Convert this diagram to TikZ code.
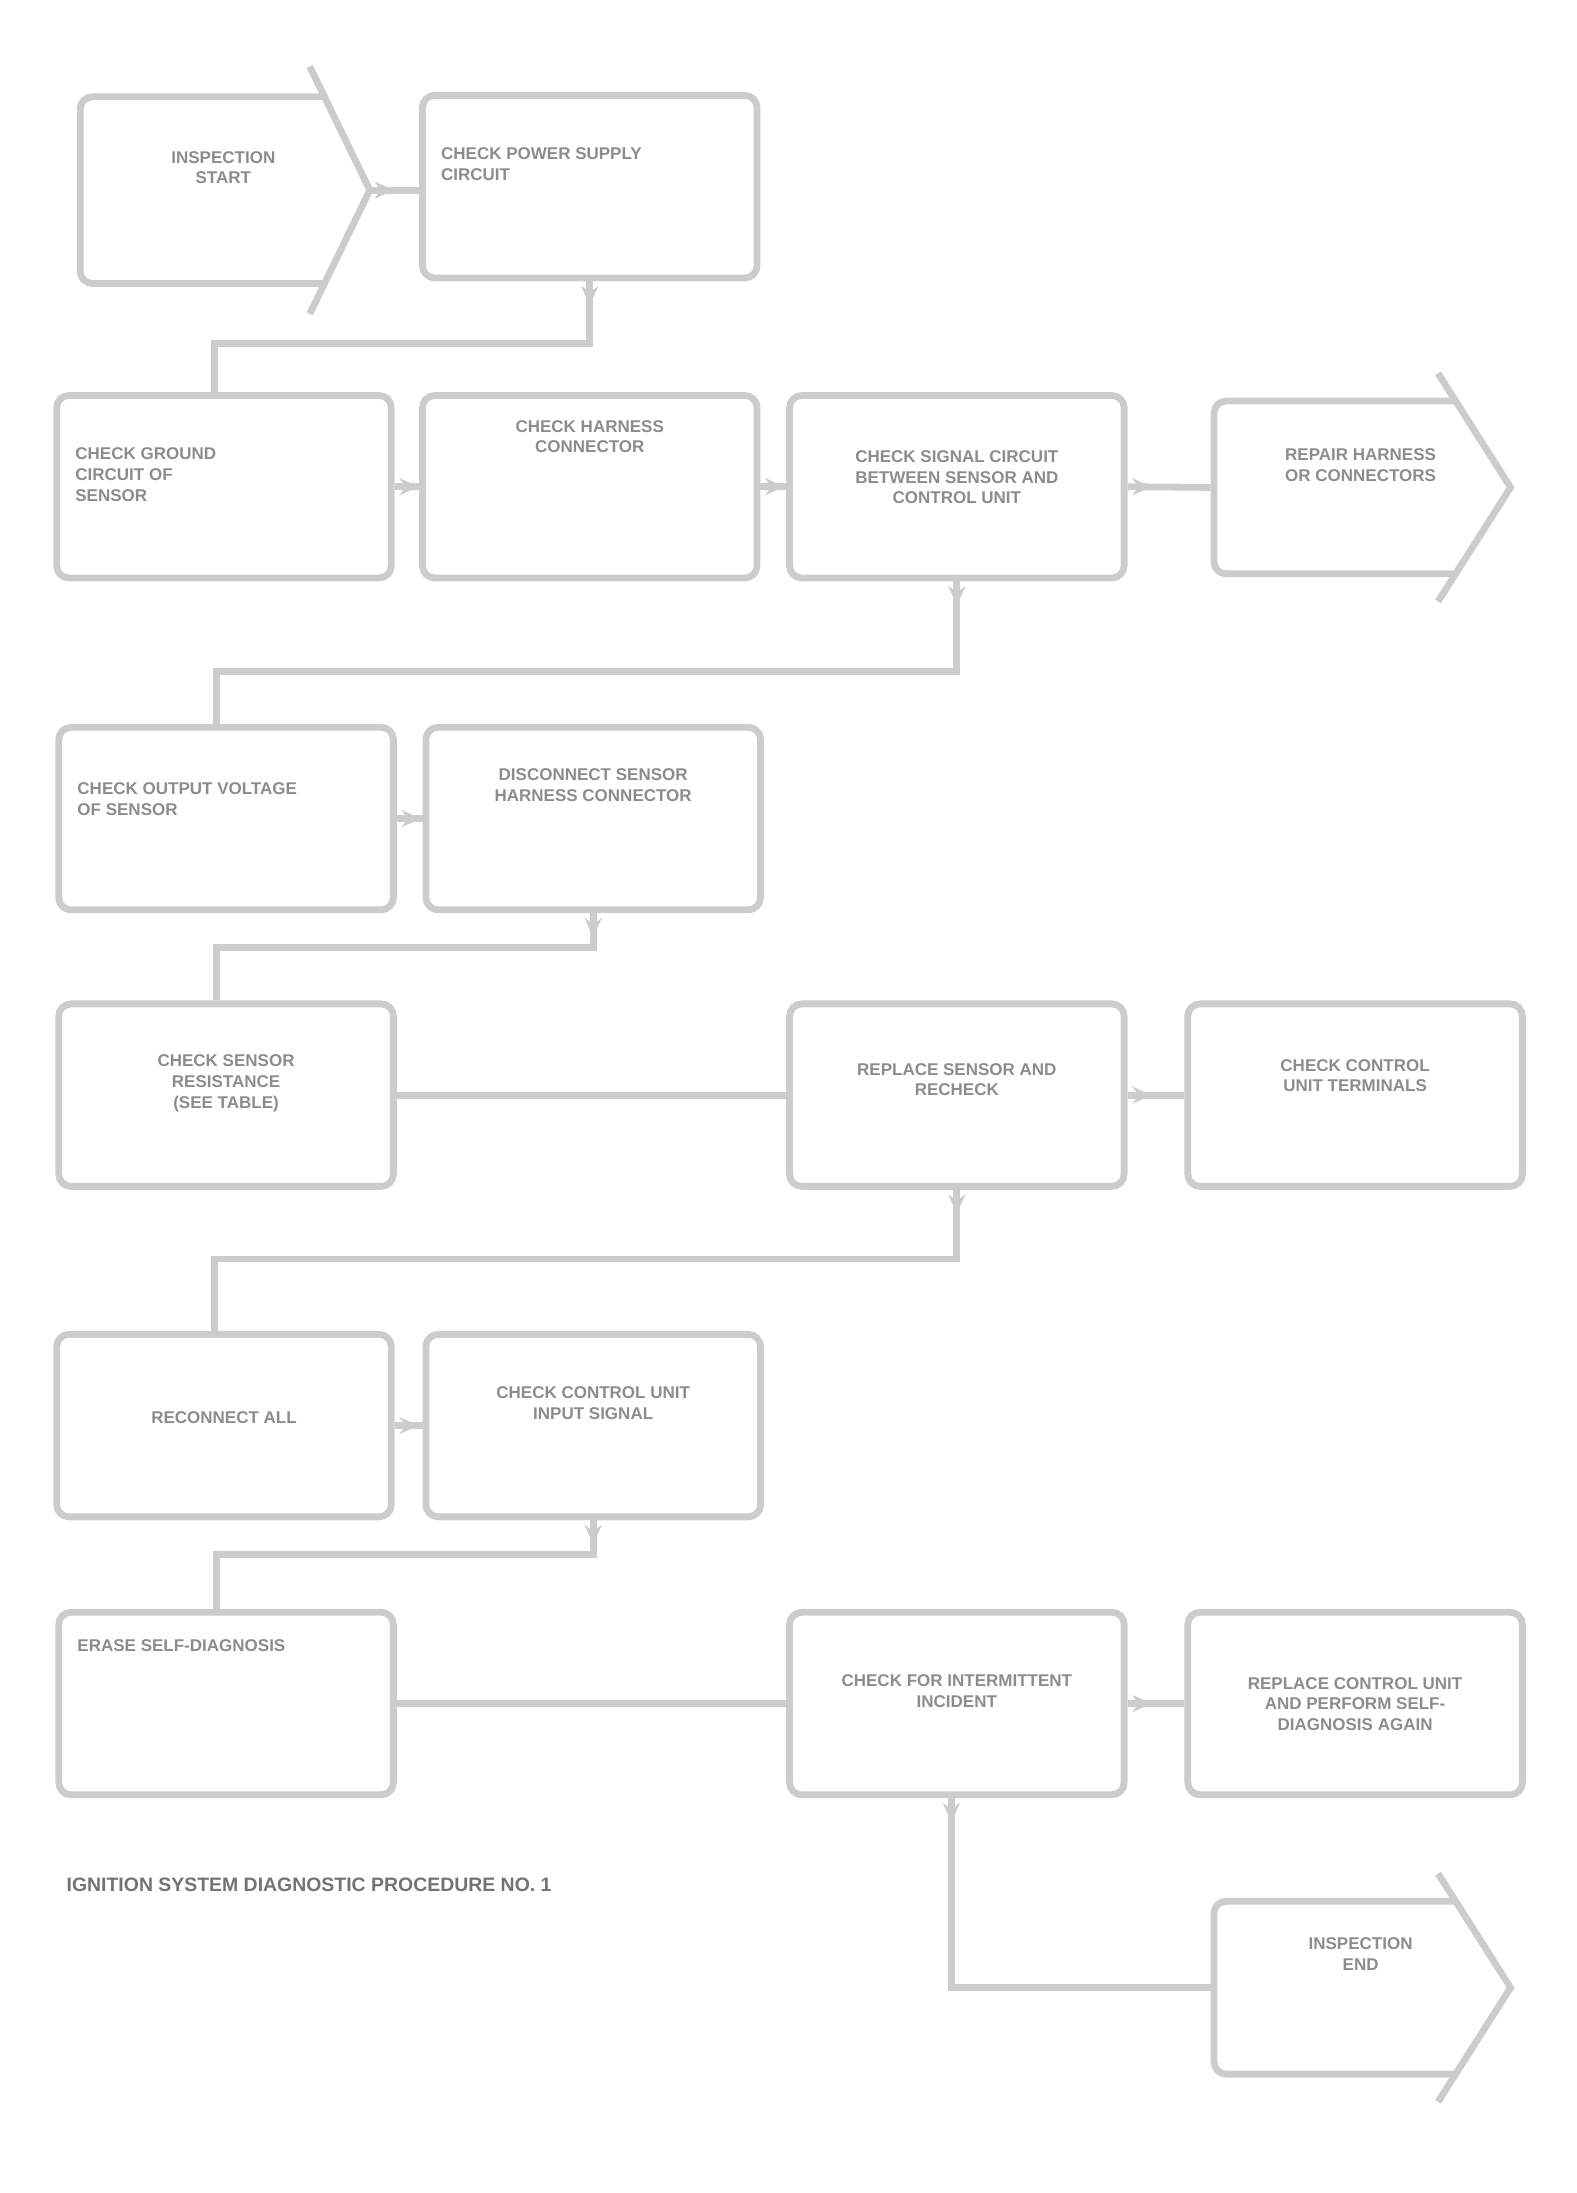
\documentclass[tikz,border=0pt]{standalone}
\usepackage[dvipsnames]{xcolor}
\usepackage{fontspec}
\setmainfont{Liberation Sans}
\usepackage{tikz}
\usetikzlibrary{arrows.meta,decorations.markings}

\newcommand{\boxtext}[4][4.3cm]{\parbox[c][2.4cm][t]{#1}{\vspace*{#2}#3#4}}

\begin{document}
\begin{tikzpicture}[x=0.02cm,y=-0.02cm,
  box/.style={draw=black!20, line width=2.8pt, rounded corners=5pt, minimum width=4.84cm,
    minimum height=2.64cm, inner sep=0pt, text=black!45, font=\fontsize{7}{8.5}\selectfont\bfseries},
  flag/.style={box, draw=none, minimum height=2.5cm},
  line/.style={color=black!20, line width=2.8pt},
  flowtip/.style={postaction={decorate, decoration={markings,
    mark=at position 0.35cm with {\arrow{Stealth[length=8pt,width=7pt]}}}}}]
  \useasboundingbox (0,0) rectangle (1140,1586);

  % row 1
  \node[flag, minimum width=4.14cm, minimum height=2.7cm] (A) at (161.5,137.5)
    {\boxtext[3.4cm]{0.64cm}{\centering}{INSPECTION\\START}};
  \draw[line, rounded corners=5pt] (234,70) -- (58,70) -- (58,205) -- (234,205);
  \draw[line] (224,48) -- (A.east) -- (224,227);
  \node[box] (B) at (426.5,135) {\boxtext{0.64cm}{\raggedright}{CHECK POWER SUPPLY\\CIRCUIT}};

  % row 2
  \node[box] (C) at (162,352) {\boxtext{0.64cm}{\raggedright}{CHECK GROUND\\CIRCUIT OF\\SENSOR}};
  \node[box] (D) at (426.5,352) {\boxtext{0.24cm}{\centering}{CHECK HARNESS\\CONNECTOR}};
  \node[box] (E) at (692,352) {\boxtext{0.68cm}{\centering}{CHECK SIGNAL CIRCUIT\\BETWEEN SENSOR AND\\CONTROL UNIT}};
  \node[flag, minimum width=4.24cm] (F) at (984,352.5)
    {\boxtext[3.4cm]{0.64cm}{\centering}{REPAIR HARNESS\\OR CONNECTORS}};
  \draw[line, rounded corners=5pt] (1052,290) -- (878,290) -- (878,415) -- (1052,415);
  \draw[line] (1040,270) -- (F.east) -- (1040,435);

  % row 3
  \node[box] (G) at (163.5,592) {\boxtext{0.68cm}{\raggedright}{CHECK OUTPUT VOLTAGE\\OF SENSOR}};
  \node[box] (H) at (429,592) {\boxtext{0.48cm}{\centering}{DISCONNECT SENSOR\\HARNESS CONNECTOR}};

  % row 4
  \node[box] (I) at (163.5,792) {\boxtext{0.62cm}{\centering}{CHECK SENSOR\\RESISTANCE\\(SEE TABLE)}};
  \node[box] (J) at (692,792) {\boxtext{0.74cm}{\centering}{REPLACE SENSOR AND\\RECHECK}};
  \node[box] (K) at (980,792) {\boxtext{0.68cm}{\centering}{CHECK CONTROL\\UNIT TERMINALS}};

  % row 5
  \node[box] (L) at (162,1031) {\boxtext{1.0cm}{\centering}{RECONNECT ALL}};
  \node[box] (M) at (429,1031) {\boxtext{0.64cm}{\centering}{CHECK CONTROL UNIT\\INPUT SIGNAL}};

  % row 6
  \node[box] (N) at (163.5,1232) {\boxtext{0.28cm}{\raggedright}{ERASE SELF-DIAGNOSIS}};
  \node[box] (O) at (692,1232) {\boxtext{0.78cm}{\centering}{CHECK FOR INTERMITTENT\\INCIDENT}};
  \node[box] (P) at (980,1232) {\boxtext{0.82cm}{\centering}{REPLACE CONTROL UNIT\\AND PERFORM SELF-\\DIAGNOSIS AGAIN}};

  \node[anchor=west, text=black!55, font=\fontsize{8}{9}\selectfont\bfseries] (cap) at (42,1363)
    {IGNITION SYSTEM DIAGNOSTIC PROCEDURE NO. 1};

  % row 7
  \node[flag, minimum width=4.24cm] (Q) at (984,1437.5)
    {\boxtext[3.4cm]{0.48cm}{\centering}{INSPECTION\\END}};
  \draw[line, rounded corners=5pt] (1052,1375) -- (878,1375) -- (878,1500) -- (1052,1500);
  \draw[line] (1040,1355) -- (Q.east) -- (1040,1520);

  % connectors
  \draw[line, flowtip] (A.east) -- (A.east -| B.west);
  \draw[line, flowtip] (B.south) -- ++(0,45) -| ([xshift=-0.14cm]C.north);
  \draw[line, flowtip] (C.east) -- (D.west);
  \draw[line, flowtip] (D.east) -- (E.west);
  \draw[line, flowtip] (E.east) -- (F.west);
  \draw[line, flowtip] (E.south) -- ++(0,65) -| ([xshift=-0.14cm]G.north);
  \draw[line, flowtip] (G.east) -- (H.west);
  \draw[line, flowtip] (H.south) -- ++(0,25) -| ([xshift=-0.14cm]I.north);
  \draw[line] (I.east) -- (J.west);
  \draw[line, flowtip] (J.east) -- (K.west);
  \draw[line, flowtip] (J.south) -- ++(0,50) -| ([xshift=-0.14cm]L.north);
  \draw[line, flowtip] (L.east) -- (M.west);
  \draw[line, flowtip] (M.south) -- ++(0,25) -| ([xshift=-0.14cm]N.north);
  \draw[line] (N.east) -- (O.west);
  \draw[line, flowtip] (O.east) -- (P.west);
  \draw[line, flowtip] ([xshift=-0.08cm]O.south) |- (Q.west);
\end{tikzpicture}
\end{document}
